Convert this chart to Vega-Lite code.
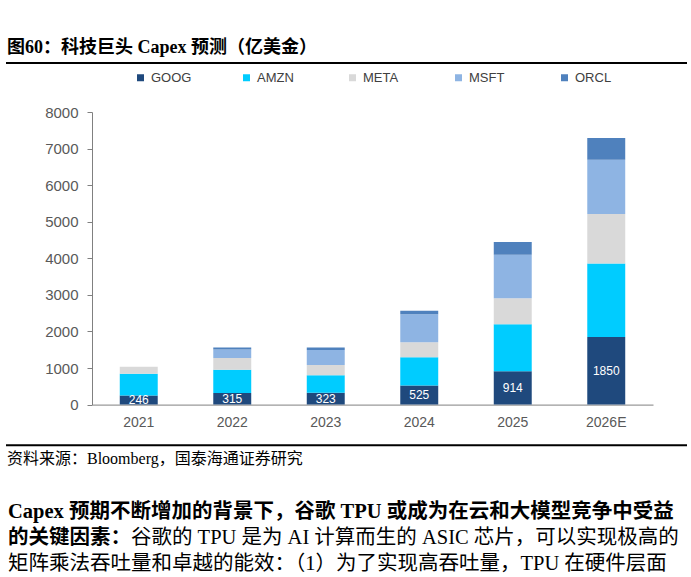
{
  "$schema": "https://vega.github.io/schema/vega-lite/v6.json",
  "padding": {"left": 5, "top": 39, "right": 0, "bottom": 0},
  "spacing": 0,
  "config": {
    "view": {"stroke": null},
    "legend": {"layout": {"top": {"anchor": "middle"}}}
  },
  "resolve": {
    "scale": {"x": "independent", "y": "independent", "color": "independent"},
    "legend": {"color": "independent"}
  },
  "vconcat": [
    {
      "width": 681,
      "height": 7.5,
      "title": {
        "text": "图60：科技巨头 Capex 预测（亿美金）",
        "anchor": "start",
        "font": "Liberation Serif, Noto Sans CJK SC",
        "fontSize": 18,
        "fontWeight": "bold",
        "color": "#000000",
        "offset": 5,
        "dx": 2
      },
      "data": {"values": [{"v": 1}]},
      "mark": {"type": "rule", "color": "#000000", "strokeWidth": 2},
      "encoding": {
        "y": {"field": "v", "type": "quantitative", "scale": {"domain": [0, 1]}, "axis": null}
      }
    },
    {
      "spacing": 0,
      "resolve": {
        "scale": {"x": "independent", "y": "independent", "color": "independent"},
        "legend": {"color": "independent"}
      },
      "hconcat": [
        {
          "width": 1,
          "height": 1,
          "data": {"values": []},
          "mark": {"type": "rule"},
          "encoding": {}
        },
        {
          "width": 561,
          "height": 292.6,
          "data": {
            "values": [
              {"year": "2021", "company": "GOOG", "value": 246},
              {"year": "2021", "company": "AMZN", "value": 600},
              {"year": "2021", "company": "META", "value": 192},
              {"year": "2022", "company": "GOOG", "value": 315},
              {"year": "2022", "company": "AMZN", "value": 637},
              {"year": "2022", "company": "META", "value": 325},
              {"year": "2022", "company": "MSFT", "value": 230},
              {"year": "2022", "company": "ORCL", "value": 55},
              {"year": "2023", "company": "GOOG", "value": 323},
              {"year": "2023", "company": "AMZN", "value": 481},
              {"year": "2023", "company": "META", "value": 281},
              {"year": "2023", "company": "MSFT", "value": 410},
              {"year": "2023", "company": "ORCL", "value": 65},
              {"year": "2024", "company": "GOOG", "value": 525},
              {"year": "2024", "company": "AMZN", "value": 773},
              {"year": "2024", "company": "META", "value": 410},
              {"year": "2024", "company": "MSFT", "value": 765},
              {"year": "2024", "company": "ORCL", "value": 93},
              {"year": "2025", "company": "GOOG", "value": 914},
              {"year": "2025", "company": "AMZN", "value": 1284},
              {"year": "2025", "company": "META", "value": 710},
              {"year": "2025", "company": "MSFT", "value": 1186},
              {"year": "2025", "company": "ORCL", "value": 355},
              {"year": "2026E", "company": "GOOG", "value": 1850},
              {"year": "2026E", "company": "AMZN", "value": 2005},
              {"year": "2026E", "company": "META", "value": 1355},
              {"year": "2026E", "company": "MSFT", "value": 1486},
              {"year": "2026E", "company": "ORCL", "value": 590}
            ]
          },
          "transform": [
            {"window": [{"op": "row_number", "as": "stackorder"}], "groupby": ["year"]}
          ],
          "encoding": {
            "x": {
              "field": "year",
              "type": "nominal",
              "sort": ["2021", "2022", "2023", "2024", "2025", "2026E"],
              "scale": {"paddingInner": 0.594, "paddingOuter": 0.297},
              "axis": {
                "title": null,
                "labelAngle": 0,
                "ticks": false,
                "labelPadding": 11,
                "labelFont": "Liberation Sans",
                "labelFontSize": 14,
                "labelColor": "#595959",
                "domainColor": "#808080",
                "domainWidth": 1
              }
            }
          },
          "layer": [
            {
              "mark": {"type": "bar"},
              "encoding": {
                "y": {
                  "field": "value",
                  "type": "quantitative",
                  "stack": "zero",
                  "scale": {"domain": [0, 8000]},
                  "axis": {
                    "title": null,
                    "values": [0, 1000, 2000, 3000, 4000, 5000, 6000, 7000, 8000],
                    "format": "d",
                    "labelOverlap": false,
                    "grid": false,
                    "tickSize": 5,
                    "tickColor": "#808080",
                    "domainColor": "#808080",
                    "labelPadding": 9,
                    "labelFont": "Liberation Sans",
                    "labelFontSize": 15,
                    "labelColor": "#595959",
                    "minExtent": 84.7
                  }
                },
                "order": {"field": "stackorder", "type": "quantitative", "sort": "ascending"},
                "color": {
                  "field": "company",
                  "type": "nominal",
                  "sort": ["GOOG", "AMZN", "META", "MSFT", "ORCL"],
                  "scale": {
                    "domain": ["GOOG", "AMZN", "META", "MSFT", "ORCL"],
                    "range": ["#1F497D", "#00CCFF", "#D9D9D9", "#8EB4E3", "#4F81BD"]
                  },
                  "legend": {
                    "title": null,
                    "orient": "top",
                    "direction": "horizontal",
                    "columns": 5,
                    "gridAlign": "all",
                    "columnPadding": 48,
                    "symbolType": "square",
                    "symbolSize": 49,
                    "symbolStrokeWidth": 0,
                    "labelFont": "Liberation Sans",
                    "labelFontSize": 13,
                    "labelColor": "#404040",
                    "labelOffset": 4,
                    "offset": 27
                  }
                }
              }
            },
            {
              "transform": [{"filter": "datum.company === 'GOOG'"}],
              "mark": {
                "type": "text",
                "color": "#FFFFFF",
                "font": "Liberation Sans",
                "fontSize": 12,
                "baseline": "middle"
              },
              "encoding": {
                "y": {
                  "field": "value",
                  "type": "quantitative",
                  "stack": "zero",
                  "bandPosition": 0.5,
                  "axis": {
                    "title": null,
                    "values": [0, 1000, 2000, 3000, 4000, 5000, 6000, 7000, 8000],
                    "format": "d",
                    "labelOverlap": false,
                    "grid": false,
                    "tickSize": 5,
                    "tickColor": "#808080",
                    "domainColor": "#808080",
                    "labelPadding": 9,
                    "labelFont": "Liberation Sans",
                    "labelFontSize": 15,
                    "labelColor": "#595959",
                    "minExtent": 84.7
                  }
                },
                "detail": {"field": "company"},
                "text": {"field": "value", "type": "quantitative"}
              }
            }
          ]
        }
      ]
    },
    {
      "width": 681,
      "height": 15.3,
      "title": {
        "text": "资料来源：Bloomberg，国泰海通证券研究",
        "orient": "bottom",
        "anchor": "start",
        "font": "Liberation Serif, Noto Sans CJK SC",
        "fontSize": 16,
        "fontWeight": "normal",
        "color": "#000000",
        "offset": 5,
        "dx": 2
      },
      "data": {"values": [{"v": 0}]},
      "mark": {"type": "rule", "color": "#000000", "strokeWidth": 2},
      "encoding": {
        "y": {"field": "v", "type": "quantitative", "scale": {"domain": [0, 1]}, "axis": null}
      }
    },
    {
      "width": 1,
      "height": 33,
      "data": {"values": []},
      "mark": {"type": "rule"},
      "encoding": {}
    },
    {
      "spacing": 4,
      "vconcat": [
        {
          "width": 1,
          "height": 1,
          "title": {
            "text": "Capex 预期不断增加的背景下，谷歌 TPU 或成为在云和大模型竞争中受益",
            "anchor": "start",
            "font": "Liberation Serif, Noto Sans CJK SC",
            "fontSize": 20.5,
            "fontWeight": "bold",
            "color": "#000000",
            "offset": 0,
            "dx": 2
          },
          "data": {"values": []},
          "mark": {"type": "rule"},
          "encoding": {}
        },
        {
          "spacing": 0,
          "hconcat": [
            {
              "width": 1,
              "height": 1,
              "title": {
                "text": "的关键因素：",
                "anchor": "start",
                "font": "Liberation Serif, Noto Sans CJK SC",
                "fontSize": 20.5,
                "fontWeight": "bold",
                "color": "#000000",
                "offset": 0,
                "dx": 2
              },
              "data": {"values": []},
              "mark": {"type": "rule"},
              "encoding": {}
            },
            {
              "width": 1,
              "height": 1,
              "title": {
                "text": "谷歌的 TPU 是为 AI 计算而生的 ASIC 芯片，可以实现极高的",
                "anchor": "start",
                "font": "Liberation Serif, Noto Sans CJK SC",
                "fontSize": 20.5,
                "fontWeight": "normal",
                "color": "#000000",
                "offset": 0
              },
              "data": {"values": []},
              "mark": {"type": "rule"},
              "encoding": {}
            }
          ]
        },
        {
          "width": 1,
          "height": 1,
          "title": {
            "text": "矩阵乘法吞吐量和卓越的能效：（1）为了实现高吞吐量，TPU 在硬件层面",
            "anchor": "start",
            "font": "Liberation Serif, Noto Sans CJK SC",
            "fontSize": 20.5,
            "fontWeight": "normal",
            "color": "#000000",
            "offset": 0,
            "dx": 2
          },
          "data": {"values": []},
          "mark": {"type": "rule"},
          "encoding": {}
        }
      ]
    }
  ]
}
